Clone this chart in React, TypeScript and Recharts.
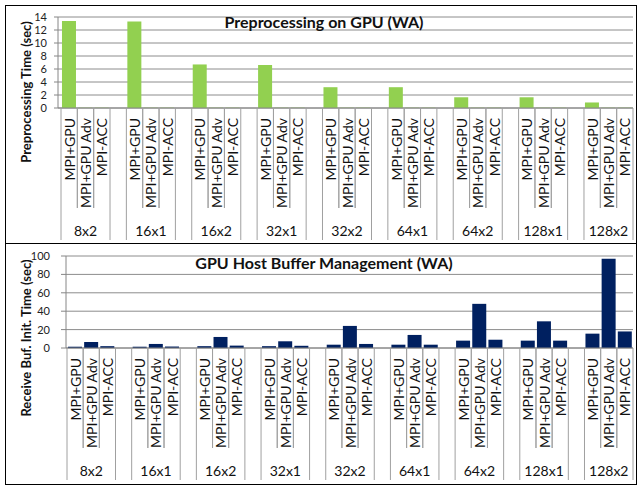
import React from 'react';
import { BarChart, Bar, XAxis, YAxis, CartesianGrid } from 'recharts';

const groups = ['8x2', '16x1', '16x2', '32x1', '32x2', '64x1', '64x2', '128x1', '128x2'];
const subs = ['MPI+GPU', 'MPI+GPU Adv', 'MPI-ACC'];

// preprocessing time (sec)
const prepGpu = [13.4, 13.3, 6.7, 6.6, 3.2, 3.2, 1.65, 1.65, 0.85];
const prepAdv = [0.05, 0.05, 0.05, 0.05, 0.05, 0.05, 0.05, 0.05, 0.05];
const prepAcc = [0.05, 0.05, 0.05, 0.05, 0.05, 0.05, 0.05, 0.05, 0.05];

// receive buffer init time (sec)
const bufGpu = [1.4, 1.4, 2, 2, 3.6, 3.6, 8, 8, 15.6];
const bufAdv = [6.5, 4.4, 12, 7.3, 24, 14.2, 48, 29, 97];
const bufAcc = [2, 1.6, 2.6, 2.4, 4.4, 3.6, 9, 8, 18];

const prepTicks = [0, 2, 4, 6, 8, 10, 12, 14];
const bufTicks = [0, 20, 40, 60, 80, 100];

type Row = { key: string; group: string; sub: number; value: number | null };

function buildRows(series: number[][]): Row[] {
  const rows: Row[] = [];
  groups.forEach((g, gi) => {
    subs.forEach((s, si) => {
      rows.push({ key: g + '|' + s, group: g, sub: si, value: series[si][gi] });
    });
    if (gi < groups.length - 1) rows.push({ key: 'gap' + gi, group: '', sub: -1, value: null });
  });
  return rows;
}

const prepRows = buildRows([prepGpu, prepAdv, prepAcc]);
const bufRows = buildRows([bufGpu, bufAdv, bufAcc]);

const FONT = 'Lato, "Open Sans", sans-serif';
const GRID = '#8c8c8c';
const SEP = '#a0a0a0';

function MultiTick(props: any) {
  const { x, y, payload, rows, half, levelH, fullH, groupY } = props;
  const row: Row | undefined = rows.find((r: Row) => r.key === payload.value);
  if (!row || row.sub < 0) return <g />;
  const leftH = row.sub === 0 ? fullH : levelH;
  const rightH = row.sub === 2 ? fullH : levelH;
  return (
    <g>
      <line x1={x - half} y1={y} x2={x - half} y2={y + leftH} stroke={SEP} />
      <line x1={x + half} y1={y} x2={x + half} y2={y + rightH} stroke={SEP} />
      <text
        x={x}
        y={y + 10}
        transform={`rotate(-90 ${x} ${y + 10})`}
        textAnchor="end"
        dominantBaseline="central"
        fontSize={14}
        fontFamily={FONT}
        fill="#111"
      >
        {subs[row.sub]}
      </text>
      {row.sub === 1 && (
        <text x={x} y={y + groupY} textAnchor="middle" dominantBaseline="central" fontSize={14} fontFamily={FONT} fill="#111">
          {row.group}
        </text>
      )}
    </g>
  );
}

type PanelProps = {
  rows: Row[];
  color: string;
  domain: [number, number];
  ticks: number[];
  title: string;
  yTitle: string;
  height: number;
  top: number;
  axisH: number;
  yW: number;
  padL: number;
  tickSize: number;
  tickMargin: number;
  titleY: number;
  yTitleY: number;
  border?: boolean;
};

function Panel(p: PanelProps) {
  const W = 630;
  const right = 3;
  const slot = (W - p.yW - right - p.padL) / p.rows.length;
  return (
    <div
      style={{
        position: 'relative',
        width: W,
        height: p.height,
        borderBottom: p.border ? '1px solid #000' : undefined,
      }}
    >
      <BarChart
        width={W}
        height={p.height}
        data={p.rows}
        margin={{ top: p.top, right, bottom: 0, left: 0 }}
        barCategoryGap="6%"
      >
        <CartesianGrid vertical={false} stroke={GRID} />
        <XAxis
          dataKey="key"
          interval={0}
          height={p.axisH}
          tickSize={0}
          tickMargin={0}
          padding={{ left: p.padL, right: 0 }}
          axisLine={{ stroke: '#868686' }}
          tick={(tp: any) => (
            <MultiTick {...tp} rows={p.rows} half={slot / 2} levelH={100} fullH={132} groupY={122} />
          )}
        />
        <YAxis
          width={p.yW}
          domain={p.domain}
          ticks={p.ticks}
          interval={0}
          tickSize={p.tickSize}
          tickMargin={p.tickMargin}
          axisLine={{ stroke: '#868686' }}
          tickLine={{ stroke: '#868686' }}
          tick={{ fontSize: 11, fontFamily: FONT, fill: '#222' }}
        />
        <Bar dataKey="value" fill={p.color} isAnimationActive={false} />
      </BarChart>
      <div
        style={{
          position: 'absolute',
          left: 318,
          top: p.titleY,
          transform: 'translate(-50%, -50%)',
          fontFamily: FONT,
          fontWeight: 700,
          fontSize: 16,
          lineHeight: 1,
          whiteSpace: 'nowrap',
          color: '#111',
        }}
      >
        {p.title}
      </div>
      <div
        style={{
          position: 'absolute',
          left: 20,
          top: p.yTitleY,
          transform: 'translate(-50%, -50%) rotate(-90deg)',
          fontFamily: FONT,
          fontWeight: 700,
          fontSize: 13,
          lineHeight: 1,
          whiteSpace: 'nowrap',
          color: '#111',
        }}
      >
        {p.yTitle}
      </div>
    </div>
  );
}

export default function App() {
  return (
    <div
      style={{
        position: 'absolute',
        left: 5,
        top: 5,
        width: 632,
        height: 480,
        border: '1px solid #000',
        boxSizing: 'border-box',
        background: '#fff',
      }}
    >
      <Panel
        rows={prepRows}
        color="#92D050"
        domain={[0, 14]}
        ticks={prepTicks}
        title="Preprocessing on GPU (WA)"
        yTitle="Preprocessing Time (sec)"
        height={237}
        top={11}
        axisH={135}
        yW={52}
        padL={3}
        tickSize={4}
        tickMargin={7}
        titleY={16}
        yTitleY={86}
        border
      />
      <Panel
        rows={bufRows}
        color="#002060"
        domain={[0, 100]}
        ticks={bufTicks}
        title="GPU Host Buffer Management (WA)"
        yTitle="Receive Buf. Init. Time (sec)"
        height={240}
        top={12}
        axisH={136}
        yW={60}
        padL={1}
        tickSize={5}
        tickMargin={11}
        titleY={19}
        yTitleY={94}
      />
    </div>
  );
}
